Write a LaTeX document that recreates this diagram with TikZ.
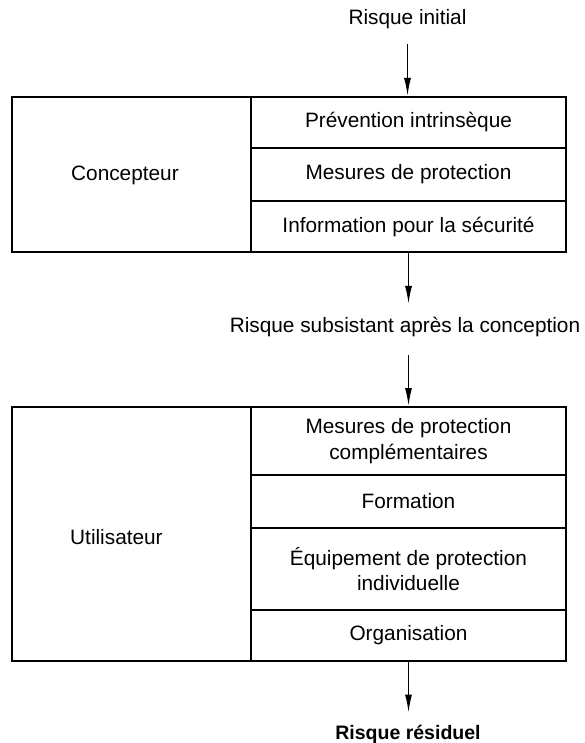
\documentclass[tikz,border=0pt]{standalone}
\usepackage{fontspec}
\setmainfont{Liberation Sans}
\usetikzlibrary{arrows.meta}
\begin{document}
\begin{tikzpicture}[x=1pt,y=-1pt,
  cell/.style={draw, line width=2pt, inner sep=0pt, anchor=north west, align=center,
    font=\fontsize{20.8}{25.5}\selectfont},
  lbl/.style={inner sep=0pt, align=center, font=\fontsize{20.8}{25.5}\selectfont},
  arr/.style={line width=1.5pt, -{Latex[length=18pt,width=7pt]}}]
\useasboundingbox (0,0) rectangle (584,743);
% top box
\node[cell, minimum width=239pt, minimum height=155pt] (c1) at (11,96) {};
\node[cell, minimum width=315pt, minimum height=51pt] (p1) at (250,96) {Prévention intrinsèque};
\node[cell, minimum width=315pt, minimum height=53pt] (p2) at (250,147) {Mesures de protection};
\node[cell, minimum width=315pt, minimum height=51pt] (p3) at (250,200) {Information pour la sécurité};
\node[lbl, anchor=west] (cn) at (71,175) {Concepteur};
% bottom box
\node[cell, minimum width=239pt, minimum height=254pt] (c2) at (11,406) {};
\node[cell, minimum width=315pt, minimum height=68pt] (u1) at (250,406) {Mesures de protection\\complémentaires};
\node[cell, minimum width=315pt, minimum height=53pt] (u2) at (250,474) {Formation};
\node[cell, minimum width=315pt, minimum height=82pt] (u3) at (250,527) {Équipement de protection\\individuelle};
\node[cell, minimum width=315pt, minimum height=51pt] (u4) at (250,609) {Organisation};
\node[lbl, anchor=west] (ut) at (70,537) {Utilisateur};
% risk labels
\node[lbl] (ri) at (407.5,19) {Risque initial};
\node[lbl] (rs) at (405,327) {Risque subsistant après la conception};
\node[lbl, font=\fontsize{19.5}{24}\selectfont\bfseries] (rr) at (408,734) {Risque résiduel};
% arrows
\draw[arr, shorten <=15pt] (ri.south) -- (ri.south |- p1.north);
\draw[arr, shorten >=13pt] (p3.south) -- (p3.south |- rs.north);
\draw[arr, shorten <=18pt] (u1.north |- rs.south) -- (u1.north);
\draw[arr, shorten >=12pt] (u4.south) -- (u4.south |- rr.north);
\end{tikzpicture}
\end{document}
